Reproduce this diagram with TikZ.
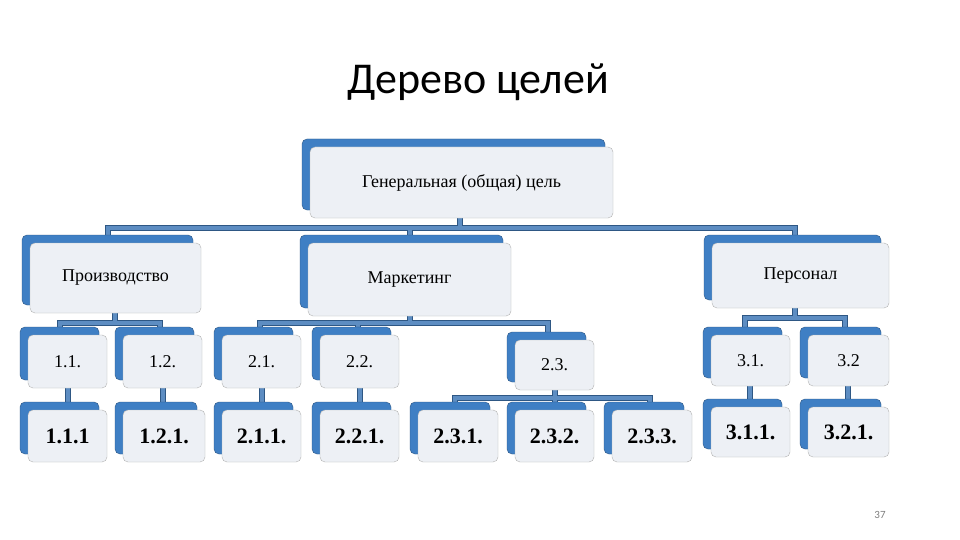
\documentclass[tikz,border=0pt]{standalone}
\usepackage{fontspec}
\setmainfont{Liberation Serif}
\newfontfamily\titlefont{Carlito}
\usetikzlibrary{shadows}
\definecolor{backblue}{HTML}{3F7FC4}
\definecolor{frontfill}{HTML}{EDF0F5}
\definecolor{linedark}{HTML}{2E5784}
\definecolor{linelight}{HTML}{5D8DC2}
\tikzset{
  gbox/.style={draw=gray!60, fill=frontfill, rounded corners=5pt, inner sep=0pt,
    copy shadow={shadow xshift=-8pt, shadow yshift=8pt, fill=backblue, draw=linedark},
    font=\fontsize{18}{20}\selectfont},
  bbox/.style={gbox, font=\fontsize{22}{24}\selectfont\bfseries},
  conn/.style={line width=6pt, draw=linedark, postaction={draw=linelight, line width=3.5pt}}
}
\newcommand{\gb}[7][gbox]{\node[#1, minimum width={(#5-#3)*1pt}, minimum height={(#6-#4)*1pt}] (#2) at ({(#3+#5)/2}, {(#4+#6)/2}) {#7};}
\begin{document}
\begin{tikzpicture}[x=1pt,y=-1pt]
\useasboundingbox[fill=white] (0,0) rectangle (960,540);
\node (title) at (478,82) {\titlefont\fontsize{44}{48}\selectfont Дерево целей};
\node[text=gray] (pg) at (880,515) {\titlefont\fontsize{11}{12}\selectfont 37};
% connectors
\draw[conn] (460,218) -- (460,228) (108,238) -- (108,228) -- (795,228) -- (795,238) (410,228) -- (410,238);
\draw[conn] (115,313) -- (115,323) (60,330) -- (60,323) -- (160,323) -- (160,330);
\draw[conn] (410,316) -- (410,323) (260,330) -- (260,323) -- (548,323) -- (548,335) (358,323) -- (358,330);
\draw[conn] (795,308) -- (795,318) (745,328) -- (745,318) -- (845,318) -- (845,328);
\draw[conn] (455,405) -- (455,398) -- (650,398) -- (650,405) (555,390) -- (555,405);
\draw[conn] (68,388) -- (68,405) (163,388) -- (163,405) (262,388) -- (262,405) (360,388) -- (360,405) (750,386) -- (750,402) (848,386) -- (848,402);
% boxes
\gb{top}{310}{147}{613}{218}{Генеральная (общая) цель}
\gb{p}{30}{243}{201}{313}{Производство}
\gb{m}{308}{243}{511}{316}{Маркетинг}
\gb{s}{712}{243}{889}{308}{Персонал}
\gb{a11}{28}{335}{107}{388}{1.1.}
\gb{a12}{123}{335}{202}{388}{1.2.}
\gb{a21}{222}{335}{301}{388}{2.1.}
\gb{a22}{320}{335}{399}{388}{2.2.}
\gb{a23}{515}{340}{594}{390}{2.3.}
\gb{a31}{711}{335}{790}{386}{3.1.}
\gb{a32}{808}{335}{889}{386}{3.2}
\gb[bbox]{b111}{28}{410}{107}{462}{1.1.1}
\gb[bbox]{b121}{123}{410}{205}{462}{1.2.1.}
\gb[bbox]{b211}{222}{410}{301}{462}{2.1.1.}
\gb[bbox]{b221}{320}{410}{399}{462}{2.2.1.}
\gb[bbox]{b231}{418}{410}{498}{462}{2.3.1.}
\gb[bbox]{b232}{515}{410}{594}{462}{2.3.2.}
\gb[bbox]{b233}{612}{410}{692}{462}{2.3.3.}
\gb[bbox]{b311}{711}{407}{790}{457}{3.1.1.}
\gb[bbox]{b321}{808}{407}{889}{457}{3.2.1.}
\end{tikzpicture}
\end{document}
